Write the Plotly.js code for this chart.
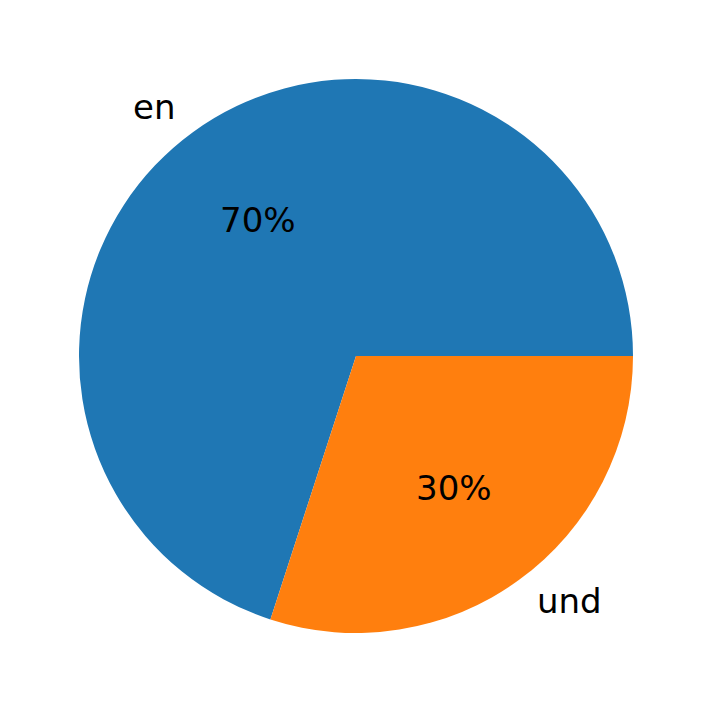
<!DOCTYPE html>
<html><head><meta charset="utf-8">
<script src="https://cdn.plot.ly/plotly-3.0.1.min.js"></script>
<style>body{margin:0;padding:0;background:#fff}#chart{width:712px;height:713px}</style>
</head><body><div id="chart"></div>
<script>
const labels = ["en", "und"];
const values = [70, 30];
const colors = ["#1f77b4", "#ff7f0e"];

const W = 712, H = 713;
const cx = 356, cy = 356, R = 277;
const dom = {x: [(cx - R) / W, (cx + R) / W], y: [(H - cy - R) / H, (H - cy + R) / H]};

const total = values.reduce((a, b) => a + b, 0);
const annotations = [];
let start = 0;
const font = {family: "DejaVu Sans", size: 34, color: "#000"};
values.forEach((v, i) => {
  const mid = (start + v / 2) / total * 2 * Math.PI;
  start += v;
  const c = Math.cos(mid), s = Math.sin(mid);
  const lx = cx + 1.1 * R * c, ly = cy - 1.1 * R * s;
  annotations.push({text: labels[i], xref: "paper", yref: "paper",
    x: lx / W, y: 1 - ly / H, xanchor: c < 0 ? "right" : "left", yanchor: "middle",
    yshift: 2, showarrow: false, font: font});
  const px = cx + 0.6 * R * c, py = cy - 0.6 * R * s;
  annotations.push({text: Math.round(v / total * 100) + "%", xref: "paper", yref: "paper",
    x: px / W, y: 1 - py / H, xanchor: "center", yanchor: "middle",
    yshift: 2, showarrow: false, font: font});
});

// First slice starts at 3 o'clock and runs counterclockwise (matplotlib style)
const rotation = 90 - 360 * values[0] / total;

Plotly.newPlot("chart", [{
  type: "pie", labels: labels, values: values, sort: false,
  direction: "counterclockwise", rotation: rotation,
  marker: {colors: colors, line: {width: 0}},
  textinfo: "none", hoverinfo: "none", domain: dom
}], {
  width: W, height: H, margin: {l: 0, r: 0, t: 0, b: 0},
  showlegend: false, paper_bgcolor: "#fff", annotations: annotations
}, {displayModeBar: false, staticPlot: true});
</script></body></html>
